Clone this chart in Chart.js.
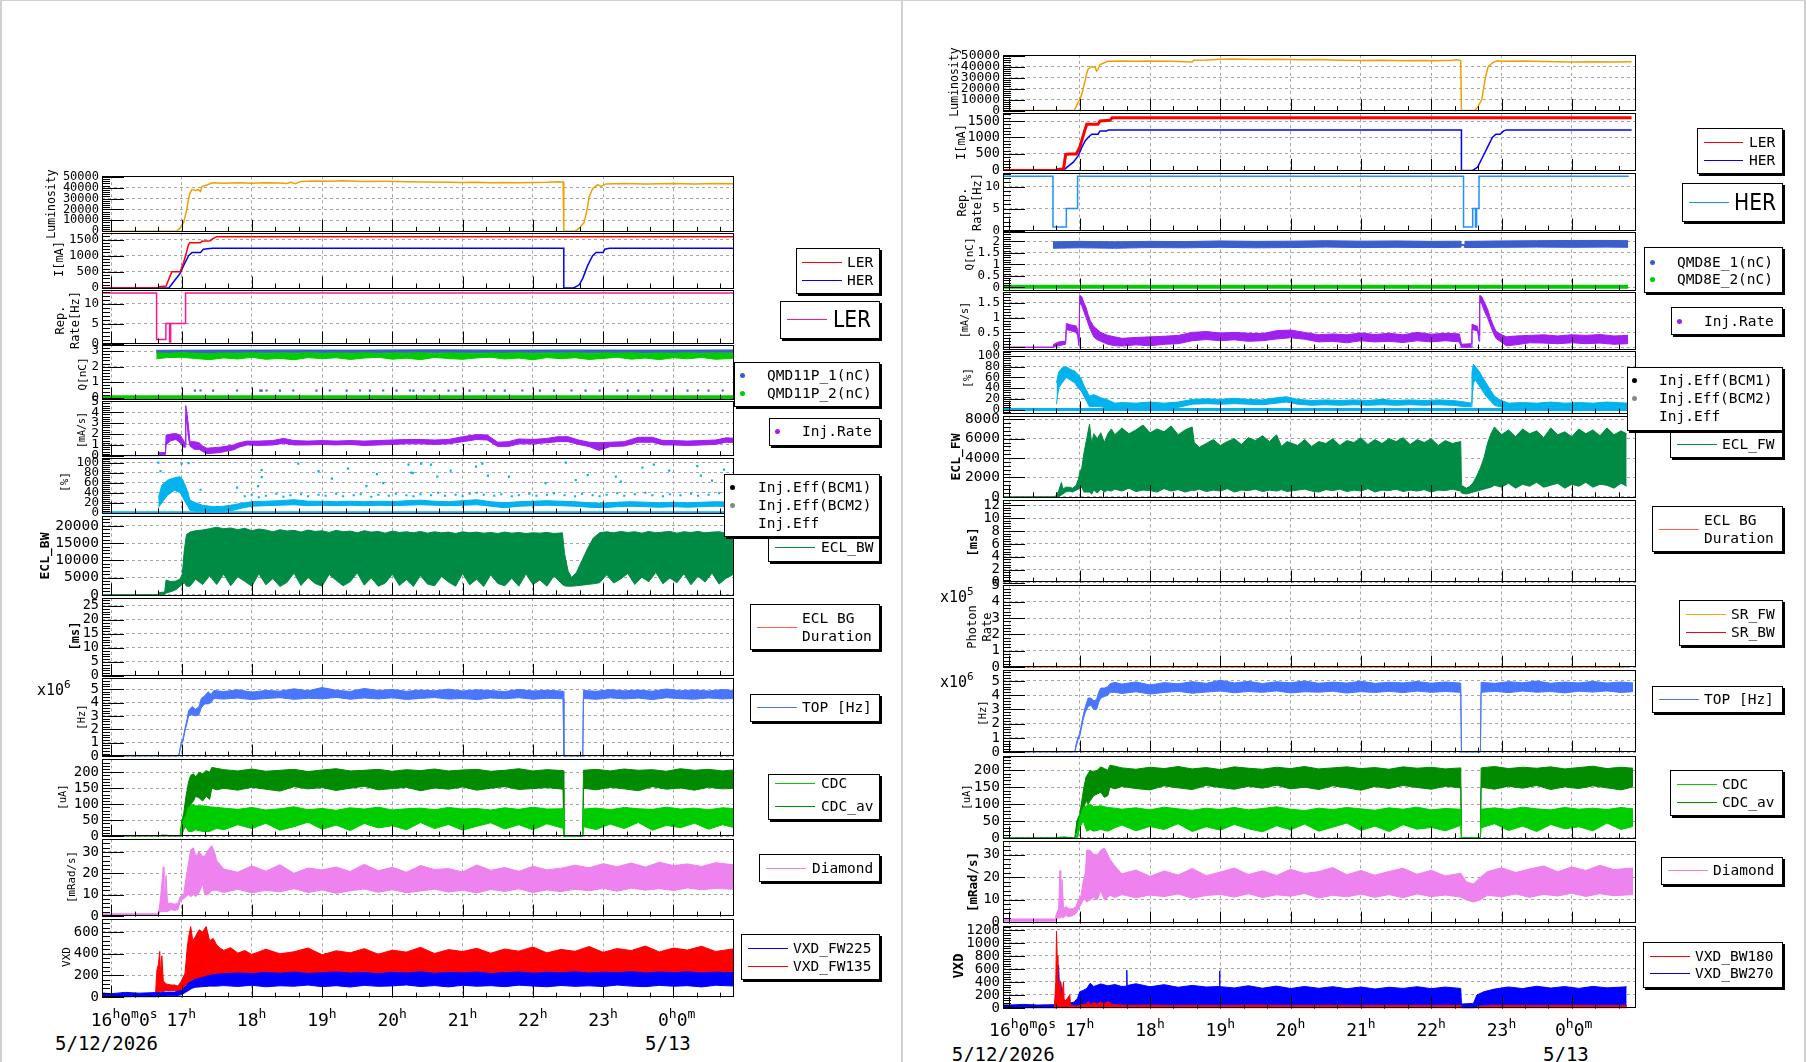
<!DOCTYPE html>
<html>
<head>
<meta charset="utf-8">
<title>Machine / detector strip charts 5/12/2026</title>
<script src="https://cdn.jsdelivr.net/npm/chart.js"></script>
<style>
  body { margin: 0; background: #fff; }
  #root { position: relative; width: 1806px; height: 1062px; overflow: hidden; font-family: "DejaVu Sans Mono", monospace; color: #000; }
  #root canvas { position: absolute; }
  .sep { position: absolute; background: #d0d0d0; }
  .yt { position: absolute; white-space: pre; text-align: center; transform: translate(-50%, -50%) rotate(-90deg); line-height: 1.25; }
  .xl { position: absolute; white-space: nowrap; font-size: 18px; line-height: 18px; }
  .xl span { font-size: 13px; position: relative; top: -8px; }
  .dt { position: absolute; white-space: nowrap; font-size: 19px; line-height: 19px; }
  .mult { position: absolute; white-space: nowrap; font-size: 15px; line-height: 15px; }
  .mult span { font-size: 11px; position: relative; top: -7px; }
  .leg { position: absolute; background: #fff; border: 1px solid #000; box-shadow: 2px 2px 0 #000; box-sizing: border-box; }
  .lm { position: absolute; }
  .lt { position: absolute; white-space: pre; font-size: 14.5px; line-height: 16px; transform: translateY(-50%); }
  .lt.big { font-family: "DejaVu Sans", sans-serif; font-size: 23px; line-height: 24px; transform: translateY(-50%) scaleX(.88); transform-origin: 0 50%; }
</style>
</head>
<body>
<div id="root"></div>
<script>
// time is in hours on 5/12 (24.x = after midnight on 5/13)
const hourTicks = [16, 17, 18, 19, 20, 21, 22, 23, 24];

// ---- left page (LER) ----
const lumL = [[15.8,0],[16.93,0],[16.98,3000],[17.03,8000],[17.075,20000],[17.1,30000],[17.12,35000],[17.15,38500],[17.2,37500],[17.24,38200],[17.27,36500],[17.29,41000],[17.36,42500],[17.44,44500],[17.6,44200],[17.8,44600],[18.0,44200],[18.2,44500],[18.4,44300],[18.5,43800],[18.55,44900],[18.62,43700],[18.7,45800],[18.9,46200],[19.1,45900],[19.3,46300],[19.6,45800],[19.9,45900],[20.2,45600],[20.5,45300],[20.8,45100],[21.0,44700],[21.2,45000],[21.4,44600],[21.6,44900],[21.8,44500],[22.0,44700],[22.2,45000],[22.35,45600],[22.43,45200],[22.44,0],[22.6,0],[22.66,2700],[22.73,8000],[22.78,22800],[22.8,31700],[22.85,39000],[22.92,42900],[22.97,41100],[23.04,43500],[23.3,43800],[23.6,43400],[24.0,43800],[24.3,43500],[24.6,43900],[24.9,43600]];
const lerL = [[15.8,0],[16.67,0],[16.68,40],[16.78,60],[16.86,500],[16.98,500],[17.03,800],[17.07,1100],[17.1,1350],[17.12,1400],[17.27,1400],[17.29,1450],[17.41,1460],[17.44,1520],[17.5,1590],[24.9,1590]];
const herL = [[15.8,0],[16.82,0],[16.89,200],[16.98,450],[17.03,700],[17.1,1000],[17.15,1100],[17.27,1100],[17.31,1200],[17.44,1230],[22.44,1230],[22.44,0],[22.58,0],[22.66,100],[22.71,300],[22.78,700],[22.85,1000],[22.9,1100],[23.0,1100],[23.02,1200],[23.09,1230],[24.9,1230]];
const repL = [[15.8,12.6],[16.645,12.6],[16.645,1],[16.777,1],[16.777,5],[16.83,5],[16.83,0.4],[16.845,0.4],[16.845,5],[17.057,5],[17.057,12.6],[24.9,12.6]];
const q1L = [[16.64,2.88,3.05],[17.5,2.87,3.06],[18.5,2.89,3.07],[19.5,2.88,3.06],[20.5,2.89,3.08],[21.5,2.88,3.06],[22.5,2.89,3.07],[23.5,2.88,3.06],[24.9,2.89,3.07]];
const q2L = [[16.64,2.5,2.88],[16.8,2.58,2.86],[17.0,2.6,2.9],[17.2,2.52,2.86],[17.4,2.45,2.84],[17.6,2.56,2.88],[17.8,2.49,2.86],[18.0,2.6,2.89],[18.2,2.47,2.85],[18.4,2.53,2.88],[18.6,2.44,2.86],[18.8,2.58,2.89],[19.0,2.51,2.85],[19.2,2.57,2.88],[19.4,2.46,2.86],[19.6,2.55,2.89],[19.8,2.6,2.85],[20.0,2.48,2.88],[20.2,2.54,2.86],[20.4,2.45,2.89],[20.6,2.59,2.85],[20.8,2.52,2.88],[21.0,2.47,2.86],[21.2,2.56,2.85],[21.4,2.6,2.88],[21.6,2.49,2.86],[21.8,2.55,2.89],[22.0,2.44,2.85],[22.2,2.58,2.88],[22.4,2.51,2.86],[22.6,2.57,2.89],[22.8,2.46,2.85],[23.0,2.53,2.88],[23.2,2.6,2.86],[23.4,2.48,2.89],[23.6,2.55,2.85],[23.8,2.45,2.88],[24.0,2.57,2.86],[24.2,2.5,2.89],[24.4,2.59,2.85],[24.6,2.47,2.88],[24.9,2.54,2.86]];
const q0L = [[15.8,0.03],[24.9,0.03]];
const qDotsL = [[17.19,0.46],[17.27,0.47],[17.45,0.46],[17.79,0.47],[18.12,0.46],[18.14,0.46],[18.21,0.47],[18.4,0.46],[18.59,0.47],[18.92,0.46],[19.11,0.47],[19.35,0.46],[19.54,0.47],[19.68,0.46],[19.87,0.47],[20.06,0.46],[20.25,0.47],[20.3,0.46],[20.45,0.47],[20.6,0.46],[20.8,0.46],[20.9,0.47],[21.1,0.46],[21.3,0.47],[21.45,0.46],[21.6,0.46],[21.85,0.47],[22.1,0.46],[22.3,0.46],[22.55,0.47],[22.75,0.46],[22.95,0.46],[23.2,0.47],[23.35,0.46],[23.5,0.46],[23.7,0.47],[23.9,0.46],[24.2,0.46],[24.35,0.47],[24.5,0.46],[24.7,0.47]];
const injRateL = [[15.8,0,0],[16.67,0,0],[16.67,0.1,0.3],[16.77,0.1,0.3],[16.78,1.0,1.9],[16.85,1.4,2.0],[16.92,1.5,2.05],[16.98,1.2,1.9],[17.03,0.8,1.4],[17.05,0.8,1.1],[17.06,3.6,4.6],[17.08,2.8,3.8],[17.1,1.6,2.6],[17.12,0.9,1.3],[17.18,0.6,1.3],[17.25,0.6,1.2],[17.3,0.4,0.9],[17.36,0.2,0.7],[17.45,0.25,0.75],[17.55,0.3,0.8],[17.65,0.45,0.9],[17.74,0.55,1.0],[17.82,0.8,1.2],[17.93,1.0,1.35],[18.1,0.95,1.35],[18.3,1.0,1.4],[18.45,1.15,1.6],[18.6,1.0,1.4],[18.8,1.0,1.35],[19.0,1.05,1.4],[19.2,1.0,1.35],[19.4,1.05,1.4],[19.6,0.95,1.35],[19.8,1.0,1.4],[20.0,1.05,1.45],[20.2,1.1,1.5],[20.4,1.1,1.5],[20.6,1.05,1.45],[20.8,1.1,1.5],[21.0,1.3,1.75],[21.2,1.5,1.95],[21.35,1.45,1.9],[21.5,0.85,1.25],[21.65,0.85,1.3],[21.8,1.1,1.55],[22.0,1.1,1.5],[22.2,1.2,1.6],[22.35,1.3,1.75],[22.5,1.3,1.75],[22.65,1.05,1.45],[22.8,0.85,1.25],[22.94,0.5,1.2],[23.1,0.85,1.25],[23.3,0.9,1.3],[23.5,1.25,1.7],[23.7,1.25,1.7],[23.85,1.0,1.4],[24.0,1.0,1.4],[24.2,0.95,1.35],[24.4,1.0,1.4],[24.6,1.05,1.45],[24.75,1.25,1.65],[24.9,1.2,1.6]];
const effBaseL = [[15.8,0],[24.9,0]];
const effL = [[16.67,10,30],[16.72,20,55],[16.8,35,65],[16.9,45,70],[16.98,40,72],[17.02,30,65],[17.08,15,45],[17.12,5,25],[17.2,3,20],[17.3,3,15],[17.45,2,12],[17.6,3,13],[17.74,5,16],[17.85,9,19],[18.0,13,22],[18.2,14,23],[18.4,15,24],[18.6,16,26],[18.8,14,23],[19.0,15,23],[19.2,14,22],[19.4,15,23],[19.6,14,22],[19.8,15,23],[20.0,14,22],[20.2,15,24],[20.4,16,25],[20.6,15,23],[20.8,14,22],[21.0,15,24],[21.2,16,26],[21.4,13,22],[21.6,10,20],[21.8,13,22],[22.0,14,23],[22.2,15,24],[22.4,14,23],[22.6,13,22],[22.8,11,20],[23.0,10,19],[23.2,12,21],[23.4,13,22],[23.6,12,21],[23.8,11,20],[24.0,12,21],[24.2,11,20],[24.4,12,21],[24.6,13,22],[24.9,12,21]];
const effDotsL = [[17.9,33],[18.0,36],[18.1,31],[18.2,34],[18.35,38],[18.45,32],[18.55,35],[18.7,37],[18.8,33],[18.95,36],[19.05,34],[19.2,38],[19.3,33],[19.45,35],[19.55,37],[19.7,32],[19.8,36],[19.95,34],[20.05,38],[20.2,35],[20.3,33],[20.4,37],[20.55,35],[20.65,40],[20.75,34],[20.9,36],[21.0,33],[21.1,38],[21.2,40],[21.3,36],[21.45,34],[21.55,37],[21.7,33],[21.8,35],[21.95,38],[22.05,34],[22.2,36],[22.3,39],[22.45,35],[22.6,33],[22.7,38],[22.85,35],[22.95,33],[23.05,36],[23.2,39],[23.3,34],[23.45,37],[23.6,40],[23.7,35],[23.85,33],[23.95,37],[24.1,35],[24.25,38],[24.35,34],[24.5,36],[24.65,39],[24.75,35],[24.85,37],
  [16.67,100],[16.7,83],[17.0,98],[17.1,99],[17.27,46],[17.79,50],[18.09,53],[18.14,85],[18.14,71],[18.66,98],[18.95,83],[19.14,68],[19.37,88],[19.63,53],[19.78,77],[19.87,59],[20.23,96],[20.27,80],[20.29,79],[20.41,98],[20.55,96],[20.64,72],[20.83,84],[21.19,92],[21.28,98],[21.36,74],[21.66,72],[22.18,59],[22.47,100],[22.61,65],[22.78,75],[23.18,72],[23.25,62],[23.56,90],[23.72,96],[23.94,84],[24.34,93],[24.39,74],[24.55,64],[24.72,86]];
const eclBwL = [[15.8,0,0],[16.67,0,0],[16.68,0,600],[16.76,0,800],[16.78,500,4300],[16.85,900,3800],[16.92,1500,4000],[16.98,2500,4600],[17.01,3000,6000],[17.04,3500,13000],[17.07,2500,17500],[17.12,2500,18200],[17.2,4500,18600],[17.3,3000,18800],[17.4,5500,19200],[17.5,3000,19600],[17.6,6000,19200],
  [17.7,2600,19400],[17.8,5200,18900],[17.9,3900,19300],[18.0,2500,18600],[18.1,6100,19100],[18.2,2900,18800],[18.3,4700,18300],[18.4,2400,18900],[18.5,3600,18500],[18.6,6300,18700],[18.7,2700,18200],[18.8,5000,18800],[18.9,3300,18400],[19.0,2500,18600],[19.1,5900,18100],[19.2,4200,18700],[19.3,2600,18300],[19.4,3800,18500],[19.5,6400,18000],[19.6,2800,18600],[19.7,4900,18200],[19.8,2500,18400],[19.9,3400,17900],[20.0,6000,18500],[20.1,2700,18100],[20.2,4400,18300],[20.3,2400,18000],[20.4,5600,18400],[20.5,3100,17900],[20.6,2600,18300],[20.7,5300,18000],[20.8,3700,18200],[20.9,2500,17800],[21.0,6200,18300],[21.1,2900,18000],[21.2,4500,18200],[21.3,2400,17900],[21.4,5800,18100],[21.5,3300,17800],[21.6,2600,18200],[21.7,4800,17900],[21.8,2500,18100],[21.9,6100,17800],[22.0,3000,18000],[22.1,4300,17900],[22.2,2500,18100],[22.3,5500,17800],[22.42,3000,18000],
  [22.45,2600,12000],[22.5,2500,7000],[22.55,2500,5000],[22.62,2600,6500],[22.7,2800,10000],[22.78,3000,13500],[22.86,3200,16500],[22.95,3500,18000],
  [23.05,5800,18300],[23.15,3400,18000],[23.25,4600,18400],[23.35,6200,18100],[23.45,3000,18300],[23.55,5100,17900],[23.65,3800,18400],[23.75,6500,18000],[23.85,3200,18200],[23.95,4900,18400],[24.05,3500,17900],[24.15,6100,18300],[24.25,2900,18100],[24.35,5400,18400],[24.45,3700,18000],[24.55,6300,18200],[24.65,3100,18300],[24.75,4800,17900],[24.85,5900,18200],[24.9,3400,18100]];
const topL = [[15.8,0,0],[16.96,0,0],[16.99,0.8,0.9],[17.02,1.1,1.3],[17.05,1.9,2.1],[17.08,2.5,2.8],[17.1,3.0,3.4],[17.15,3.1,3.7],[17.2,3.0,3.5],[17.25,3.1,3.7],[17.28,3.6,4.3],[17.33,3.9,4.5],[17.38,3.9,4.8],[17.42,4.0,4.6],[17.46,4.3,4.9],[17.6,4.26,4.82],[17.8,4.33,4.95],[18.0,4.22,4.78],[18.2,4.3,4.9],[18.4,4.36,4.85],[18.6,4.24,5.02],[18.8,4.32,4.88],[19.0,4.28,5.12],[19.2,4.38,4.92],[19.4,4.25,4.83],[19.6,4.34,5.05],[19.8,4.27,4.9],[20.0,4.35,4.97],[20.2,4.23,4.84],[20.4,4.31,4.93],[20.6,4.37,4.87],[20.8,4.26,5.0],[21.0,4.3,4.86],[21.2,4.22,4.95],[21.4,4.34,4.89],[21.6,4.28,4.82],[21.8,4.36,4.98],[22.0,4.25,4.86],[22.2,4.32,4.92],[22.43,4.28,4.85],[22.44,0,0],[22.71,0,0],[22.72,4.3,4.9],[22.9,4.24,4.84],[23.1,4.35,4.96],[23.3,4.27,4.87],[23.5,4.33,4.93],[23.7,4.22,4.85],[23.9,4.36,5.01],[24.1,4.29,4.88],[24.3,4.25,4.94],[24.5,4.34,4.86],[24.7,4.27,4.97],[24.9,4.31,4.88]];
const cdcAvL = [[15.8,0,0],[16.7,0,0],[16.72,0,4],[16.8,0,3],[16.82,0,0],[16.98,0,0],[17.0,15,45],[17.03,40,70],[17.06,60,120],[17.1,80,170],[17.13,100,190],[17.17,110,195],[17.2,125,185],[17.25,120,200],[17.3,110,195],[17.35,125,205],[17.4,115,200],[17.43,150,215],[17.5,145,212],[17.6,150,208],[17.8,144,204],[18.0,153,210],[18.2,147,203],[18.4,141,206],[18.6,155,209],[18.8,148,202],[19.0,152,207],[19.2,143,211],[19.4,150,204],[19.6,156,206],[19.8,145,209],[20.0,149,203],[20.2,153,208],[20.4,142,205],[20.6,151,210],[20.8,147,204],[21.0,154,207],[21.2,144,209],[21.4,150,203],[21.6,155,206],[21.8,146,211],[22.0,149,204],[22.2,152,208],[22.43,147,205],[22.44,0,0],[22.71,0,0],[22.72,150,206],[22.9,145,209],[23.1,153,204],[23.3,148,210],[23.5,142,206],[23.7,155,208],[23.9,147,203],[24.1,151,211],[24.3,144,206],[24.5,153,209],[24.7,148,204],[24.9,150,208]];
const cdcL = [[16.98,0,0],[17.0,0,30],[17.03,20,50],[17.06,30,65],[17.1,15,90],[17.15,15,100],[17.2,20,95],[17.3,15,95],[17.4,15,92],[17.5,25,90],[17.6,20,88],[17.8,36,84],[18.0,24,90],[18.2,41,82],[18.4,19,86],[18.6,30,92],[18.8,44,83],[19.0,22,87],[19.2,35,81],[19.4,18,89],[19.6,40,85],[19.8,26,91],[20.0,33,82],[20.2,20,86],[20.4,43,88],[20.6,24,83],[20.8,37,90],[21.0,19,85],[21.2,31,87],[21.4,42,82],[21.6,23,89],[21.8,36,84],[22.0,20,91],[22.2,39,85],[22.43,25,86],[22.44,0,0],[22.71,0,0],[22.72,30,85],[22.9,21,88],[23.1,38,83],[23.3,24,90],[23.5,43,86],[23.7,19,84],[23.9,34,91],[24.1,27,85],[24.3,41,88],[24.5,22,83],[24.7,36,89],[24.9,25,86]];
const diaL = [[15.8,0.2,1],[16.67,0.2,1],[16.68,1,3],[16.7,2,8],[16.74,2,23],[16.75,2,6],[16.78,2,19],[16.8,2,6],[16.85,3,6],[16.9,2.5,5.5],[16.95,3,6],[16.98,7,9],[17.03,8,10],[17.06,9,17],[17.1,10,25],[17.13,9,31],[17.17,10,32],[17.2,9,28],[17.25,11,30],[17.3,15,28],[17.33,10,28],[17.38,10,31],[17.43,12,33],[17.47,12,30],[17.5,12,26],[17.6,11,22],[17.8,12.5,20.5],[18.0,10.8,23.5],[18.2,12,21],[18.4,11.3,24],[18.6,12.8,20],[18.8,11,22.5],[19.0,12.2,21.5],[19.2,10.6,23],[19.4,11.8,20.8],[19.6,12.6,24.2],[19.8,11.1,21.2],[20.0,12.3,22.8],[20.2,10.9,20.5],[20.4,11.7,23.6],[20.6,12.5,21.8],[20.8,11.2,22.2],[21.0,12.1,20.6],[21.2,10.8,23.9],[21.4,12.4,21.4],[21.6,11.5,22.7],[21.8,12.7,20.9],[22.0,11,23.3],[22.2,12.2,21.6],[22.4,11.4,22.4],[22.6,12.5,23.8],[22.8,11.8,22.6],[23.0,12.9,24.5],[23.2,11.6,23.1],[23.4,13,24.8],[23.6,12.1,22.9],[23.8,12.8,25.2],[24.0,11.9,23.6],[24.2,13.1,24.4],[24.4,12.3,23.2],[24.6,12.9,25],[24.9,12.4,23.8]];
const vxdBlueL = [[15.8,0,40],[16.0,0,30],[16.2,0,42],[16.4,0,35],[16.63,0,40],[16.7,5,40],[16.8,10,45],[16.9,10,45],[17.0,20,60],[17.05,40,90],[17.1,60,130],[17.15,80,150],[17.2,90,165],[17.3,95,180],[17.4,100,200],[17.5,100,210],[17.6,105,215],[17.8,97,221],[18.0,108,216],[18.2,94,226],[18.4,103,219],[18.6,99,229],[18.8,110,217],[19.0,95,224],[19.2,104,231],[19.4,92,220],[19.6,107,226],[19.8,98,215],[20.0,102,228],[20.2,111,221],[20.4,96,232],[20.6,105,218],[20.8,93,227],[21.0,108,222],[21.2,99,230],[21.4,104,216],[21.6,95,225],[21.8,109,231],[22.0,101,219],[22.2,94,228],[22.4,106,223],[22.6,98,232],[22.8,103,220],[23.0,96,229],[23.2,110,224],[23.4,100,233],[23.6,95,221],[23.8,107,230],[24.0,99,225],[24.2,104,232],[24.4,93,222],[24.6,108,229],[24.9,100,224]];
const vxdRedL = [[16.63,0,40],[16.65,30,250],[16.67,40,300],[16.69,50,420],[16.7,50,200],[16.72,50,380],[16.74,50,150],[16.78,60,120],[16.85,60,110],[16.9,60,110],[16.95,50,100],[17.0,60,150],[17.05,80,220],[17.08,100,450],[17.1,120,550],[17.13,150,650],[17.16,160,520],[17.2,160,560],[17.25,170,620],[17.3,180,600],[17.35,180,650],[17.4,180,520],[17.45,190,540],[17.5,190,480],[17.55,190,450],[17.6,200,430],[17.7,200,455],[17.8,200,405],[17.9,200,428],[18.0,200,392],[18.2,200,441],[18.4,200,398],[18.6,200,417],[18.8,200,452],[19.0,200,389],[19.2,200,426],[19.4,200,408],[19.6,200,446],[19.8,200,395],[20.0,200,432],[20.2,200,414],[20.4,200,458],[20.6,200,401],[20.8,200,437],[21.0,200,419],[21.2,200,449],[21.4,200,404],[21.6,200,442],[21.8,200,423],[22.0,200,461],[22.2,200,407],[22.4,200,439],[22.6,200,421],[22.8,200,466],[23.0,200,412],[23.2,200,447],[23.4,200,428],[23.6,200,470],[23.8,200,416],[24.0,200,451],[24.2,200,433],[24.4,200,468],[24.6,200,420],[24.9,200,448]];

// ---- right page (HER) ----
const lumR = [[15.8,0],[16.92,0],[16.96,5000],[17.0,10000],[17.03,15000],[17.08,28000],[17.1,34000],[17.12,38000],[17.17,40000],[17.22,39500],[17.24,36000],[17.26,37500],[17.29,42000],[17.4,45000],[17.6,45200],[17.8,44900],[18.0,45300],[18.3,45000],[18.5,44600],[18.6,44300],[18.62,46000],[18.8,46200],[19.0,46800],[19.2,47000],[19.5,46600],[19.8,46800],[20.1,46400],[20.4,46600],[20.7,46000],[21.0,45700],[21.3,45900],[21.6,45500],[21.9,45700],[22.1,45400],[22.3,45800],[22.36,46300],[22.42,45600],[22.43,0],[22.61,0],[22.65,2000],[22.72,10000],[22.77,30000],[22.81,40000],[22.88,44000],[22.94,45500],[23.0,45000],[23.3,45200],[23.6,44700],[24.0,44400],[24.3,44600],[24.6,44300],[24.85,44500]];
const lerR = [[15.8,0],[16.67,0],[16.68,30],[16.77,40],[16.8,480],[16.85,500],[16.95,500],[17.0,700],[17.07,1200],[17.1,1400],[17.26,1400],[17.29,1500],[17.43,1520],[17.46,1600],[24.85,1600]];
const herR = [[15.8,0],[16.77,0],[16.82,100],[16.91,250],[16.98,450],[17.03,700],[17.08,900],[17.12,1000],[17.17,1100],[17.26,1100],[17.29,1200],[17.38,1200],[17.41,1230],[22.43,1230],[22.43,0],[22.59,0],[22.66,100],[22.73,400],[22.8,700],[22.87,1000],[22.92,1100],[22.98,1100],[23.03,1200],[23.07,1230],[24.85,1230]];
const repR = [[15.8,12.4],[16.62,12.4],[16.62,0.8],[16.81,0.8],[16.81,5],[16.97,5],[16.97,12.4],[22.46,12.4],[22.46,0.8],[22.59,0.8],[22.59,5],[22.63,5],[22.63,0.8],[22.645,0.8],[22.645,5],[22.68,5],[22.68,12.4],[24.81,12.4]];
const q1R = [[16.62,1.7,1.98],[17.0,1.72,2.0],[17.5,1.7,1.98],[18.0,1.73,2.0],[18.5,1.72,1.99],[19.0,1.74,2.02],[19.5,1.72,2.0],[20.0,1.73,2.01],[20.5,1.75,2.03],[21.0,1.73,2.01],[21.5,1.74,2.02],[22.0,1.73,2.0],[22.42,1.74,2.01],[22.43,1.82,1.86],[22.47,1.82,1.86],[22.48,1.73,2.0],[23.0,1.74,2.02],[23.5,1.75,2.03],[24.0,1.74,2.04],[24.5,1.75,2.04],[24.8,1.74,2.03]];
const q0R = [[15.8,0.02],[24.8,0.02]];
const injRateR = [[15.8,0,0],[16.62,0,0],[16.63,0,0.1],[16.7,0.05,0.18],[16.8,0.1,0.2],[16.81,0.6,0.8],[16.88,0.55,0.75],[16.95,0.5,0.72],[16.97,0.4,0.6],[16.99,0.05,0.2],[17.0,1.5,1.75],[17.03,1.4,1.7],[17.06,1.2,1.5],[17.09,1.0,1.35],[17.12,0.8,1.1],[17.15,0.6,0.9],[17.2,0.35,0.7],[17.25,0.25,0.6],[17.3,0.2,0.5],[17.4,0.1,0.4],[17.5,0.05,0.35],[17.6,0.04,0.3],[17.8,0.08,0.33],[18.0,0.05,0.35],[18.2,0.1,0.37],[18.4,0.12,0.4],[18.6,0.22,0.5],[18.8,0.26,0.53],[19.0,0.22,0.48],[19.2,0.25,0.5],[19.4,0.2,0.47],[19.6,0.22,0.46],[19.8,0.28,0.56],[20.0,0.32,0.58],[20.2,0.27,0.5],[20.4,0.18,0.42],[20.6,0.2,0.45],[20.8,0.15,0.42],[21.0,0.22,0.48],[21.2,0.18,0.43],[21.4,0.2,0.47],[21.6,0.16,0.42],[21.8,0.22,0.5],[22.0,0.18,0.44],[22.2,0.22,0.47],[22.4,0.18,0.45],[22.43,0,0.1],[22.57,0,0.12],[22.58,0.6,0.78],[22.66,0.55,0.7],[22.68,0.2,0.4],[22.69,1.55,1.75],[22.72,1.45,1.7],[22.76,1.2,1.5],[22.8,1.0,1.3],[22.84,0.75,1.0],[22.88,0.5,0.75],[22.92,0.3,0.55],[22.98,0.2,0.45],[23.07,0.05,0.35],[23.2,0.08,0.38],[23.4,0.15,0.4],[23.6,0.14,0.42],[23.8,0.12,0.38],[24.0,0.15,0.42],[24.2,0.12,0.4],[24.4,0.14,0.43],[24.6,0.1,0.38],[24.8,0.12,0.4]];
const effBaseR = [[15.8,0],[24.8,0]];
const effR = [[16.67,10,50],[16.7,40,70],[16.75,50,78],[16.81,60,80],[16.87,55,75],[16.93,50,72],[16.98,40,65],[17.02,35,58],[17.06,25,45],[17.1,15,35],[17.14,5,25],[17.2,6,28],[17.3,5,22],[17.4,3,18],[17.5,2,12],[17.6,3,13],[17.8,2,12],[18.0,3,14],[18.2,2,12],[18.4,4,14],[18.6,10,19],[18.8,11,20],[19.0,10,19],[19.2,11,21],[19.4,10,19],[19.6,9,18],[19.8,12,22],[19.94,14,24],[20.1,10,19],[20.3,8,17],[20.5,9,18],[20.7,8,17],[20.9,9,18],[21.1,8,17],[21.3,9,19],[21.5,8,17],[21.7,9,18],[21.9,8,17],[22.1,9,18],[22.3,8,17],[22.43,6,15],[22.57,5,12],[22.58,20,70],[22.6,50,85],[22.63,55,80],[22.68,45,72],[22.73,35,60],[22.78,25,50],[22.85,15,35],[22.9,8,25],[22.98,5,18],[23.1,3,12],[23.3,4,13],[23.5,3,12],[23.7,4,14],[23.9,3,12],[24.1,4,13],[24.3,3,12],[24.5,4,14],[24.8,3,12]];
const eclFwR = [[15.8,0,0],[16.65,0,0],[16.7,0,600],[16.74,200,1500],[16.76,300,800],[16.8,500,1000],[16.85,600,1000],[16.9,500,900],[16.95,700,1200],[16.98,800,1800],[17.0,900,2500],[17.03,1000,3000],[17.06,500,4500],[17.1,500,6000],[17.14,500,7500],[17.17,300,5500],[17.2,700,6500],[17.25,400,6000],[17.3,800,6600],[17.35,500,5600],[17.4,700,6500],[17.45,600,7000],
  [17.5,800,6400],[17.6,600,7100],[17.7,900,6500],[17.8,550,6900],[17.9,700,7400],[18.0,650,6600],[18.1,500,7000],[18.2,850,6700],[18.3,600,7300],[18.4,750,6400],[18.5,500,6900],[18.6,700,7200],[18.63,650,5600],[18.7,800,5100],[18.8,550,5500],[18.9,700,5900],[19.0,600,5300],[19.1,850,5700],[19.2,500,6000],[19.3,700,5400],[19.4,650,6100],[19.5,800,5800],[19.6,550,6300],[19.7,700,5700],[19.8,600,6400],[19.87,750,5200],[19.95,550,5700],[20.1,700,5300],[20.2,800,5900],[20.3,600,5200],[20.4,500,5700],[20.5,750,5500],[20.6,650,6000],[20.7,800,5300],[20.8,550,5800],[20.9,700,5600],[21.0,600,6100],[21.1,850,5400],[21.2,500,5900],[21.3,700,5500],[21.4,650,6000],[21.5,800,5700],[21.6,550,6100],[21.7,700,5400],[21.8,600,5900],[21.9,750,5600],[22.0,500,6000],[22.1,700,5300],[22.2,650,5800],[22.3,800,5500],[22.42,600,5700],
  [22.43,400,1200],[22.5,300,900],[22.55,400,1100],[22.6,500,1500],[22.65,600,2200],[22.7,700,3000],[22.75,800,4000],[22.8,900,5500],[22.85,1000,6500],
  [22.9,1200,7200],[23.0,1000,6400],[23.1,1400,6900],[23.2,900,6200],[23.3,1300,7000],[23.4,1100,6500],[23.5,1500,6800],[23.6,1000,6100],[23.7,1200,7100],[23.8,1400,6400],[23.9,900,6700],[24.0,1300,6200],[24.1,1100,7000],[24.2,1500,6500],[24.3,1000,6900],[24.4,1300,6300],[24.5,1200,7100],[24.6,900,6400],[24.7,1400,6800],[24.78,1100,6500]];
const srFwR = [[15.8,0],[24.78,0]];
const srBwR = [[15.8,0],[24.78,0]];
const topR = [[15.8,0,0],[16.93,0,0],[16.95,0.4,0.6],[16.98,0.9,1.1],[17.0,1.1,1.3],[17.03,1.8,2.1],[17.05,2.3,2.6],[17.08,2.8,3.2],[17.12,3.2,3.8],[17.16,3.3,3.8],[17.2,3.0,3.6],[17.24,3.0,3.7],[17.27,3.5,4.2],[17.3,3.8,4.5],[17.35,3.9,4.5],[17.4,4.0,4.6],[17.43,4.2,4.8],[17.5,4.2,4.9],[17.6,4.12,4.78],[17.8,4.24,4.93],[18.0,4.08,4.72],[18.2,4.19,4.88],[18.4,4.27,4.8],[18.6,4.14,4.95],[18.8,4.22,4.83],[19.0,4.29,5.05],[19.2,4.17,4.86],[19.4,4.26,4.97],[19.6,4.2,4.82],[19.8,4.3,4.94],[20.0,4.16,4.87],[20.2,4.24,5.0],[20.4,4.21,4.84],[20.6,4.28,4.92],[20.8,4.15,4.85],[21.0,4.25,4.98],[21.2,4.19,4.83],[21.4,4.27,4.91],[21.6,4.18,4.86],[21.8,4.29,4.96],[22.0,4.2,4.84],[22.2,4.26,4.93],[22.42,4.2,4.85],[22.43,0,0],[22.7,0,0],[22.71,4.2,4.9],[22.9,4.27,4.83],[23.1,4.18,4.95],[23.3,4.29,4.87],[23.5,4.21,4.99],[23.7,4.26,4.84],[23.9,4.16,4.92],[24.1,4.28,4.86],[24.3,4.22,4.97],[24.5,4.3,4.85],[24.7,4.19,4.93],[24.87,4.25,4.86]];
const cdcAvR = [[15.8,0,0],[16.65,0,0],[16.7,0,2],[16.8,0,3],[16.85,0,1],[16.93,0,0],[16.96,20,50],[17.0,40,70],[17.03,60,110],[17.06,90,150],[17.09,110,180],[17.12,100,190],[17.15,110,200],[17.2,125,195],[17.25,130,200],[17.3,135,210],[17.35,120,205],[17.4,125,200],[17.43,150,215],[17.5,145,212],[17.6,152,207],[17.8,146,203],[18.0,142,209],[18.2,154,205],[18.4,148,211],[18.6,143,204],[18.8,155,208],[19.0,149,202],[19.2,144,210],[19.4,153,206],[19.6,147,203],[19.8,156,209],[20.0,145,205],[20.2,150,211],[20.4,143,204],[20.6,154,207],[20.8,148,210],[21.0,141,205],[21.2,152,208],[21.4,146,203],[21.6,155,210],[21.8,149,206],[22.0,144,209],[22.2,153,204],[22.42,148,207],[22.43,0,0],[22.7,0,0],[22.71,150,207],[22.9,144,211],[23.1,153,205],[23.3,147,209],[23.5,155,206],[23.7,143,210],[23.9,151,204],[24.1,146,208],[24.3,154,212],[24.5,148,205],[24.7,142,209],[24.87,151,206]];
const cdcR = [[16.95,0,0],[16.97,0,20],[17.0,30,60],[17.05,50,90],[17.1,20,95],[17.15,25,100],[17.2,20,92],[17.3,25,95],[17.4,20,90],[17.5,30,88],[17.6,38,85],[17.8,21,89],[18.0,34,83],[18.2,25,91],[18.4,42,86],[18.6,19,82],[18.8,33,88],[19.0,23,84],[19.2,40,90],[19.4,27,83],[19.6,18,87],[19.8,36,92],[20.0,24,85],[20.2,41,81],[20.4,20,88],[20.6,32,84],[20.8,44,90],[21.0,22,86],[21.2,35,82],[21.4,19,89],[21.6,39,85],[21.8,26,91],[22.0,31,83],[22.2,21,87],[22.42,37,85],[22.43,0,0],[22.7,0,0],[22.71,30,85],[22.9,42,89],[23.1,22,84],[23.3,35,91],[23.5,19,86],[23.7,40,83],[23.9,27,90],[24.1,33,85],[24.3,21,88],[24.5,44,84],[24.7,25,90],[24.87,34,86]];
const diaR = [[15.8,0.5,1.5],[16.65,0.5,1.5],[16.66,1,3],[16.7,2,6],[16.72,2,23],[16.73,3,8],[16.75,2,19],[16.77,2,6],[16.8,3,7],[16.85,2.5,6],[16.9,3,6],[16.95,4,7],[16.98,6,10],[17.02,8,12],[17.05,10,18],[17.08,10,22],[17.1,9,32],[17.15,10,32],[17.2,11,30],[17.25,10,30],[17.3,14,32],[17.35,10,33],[17.4,11,30],[17.43,12,28],[17.5,11,25],[17.6,12.3,21.5],[17.8,10.9,23.2],[18.0,12.1,20.4],[18.2,11.4,22.8],[18.4,12.6,21],[18.6,10.7,23.9],[18.8,11.9,20.7],[19.0,12.4,22.3],[19.2,11.2,24.1],[19.4,12.7,21.2],[19.6,11,22.9],[19.8,12.2,20.8],[20.0,11.6,23.5],[20.2,12.8,21.7],[20.4,10.8,22.5],[20.6,12,24.3],[20.8,11.3,21.1],[21.0,12.5,23],[21.2,11.1,20.9],[21.4,12.3,22.6],[21.6,10.9,24],[21.8,12.6,21.3],[22.0,11.4,23.1],[22.2,12.1,20.6],[22.42,11.2,21.8],[22.5,10,18],[22.6,9,17],[22.7,10,20],[22.8,12,22.5],[23.0,11.3,24.2],[23.2,12.6,22.1],[23.4,11.1,23.7],[23.6,12.4,25],[23.8,11.7,22.4],[24.0,12.9,24.6],[24.2,11.5,23],[24.4,12.7,25.3],[24.6,11.8,23.4],[24.87,12.3,24.1]];
const vxdBlueR = [[15.8,0,50],[16.0,0,45],[16.2,0,55],[16.4,0,45],[16.64,0,50],[16.66,0,200],[16.67,10,400],[16.7,10,660],[16.71,10,350],[16.73,10,400],[16.75,10,200],[16.78,10,120],[16.82,10,100],[16.87,10,80],[16.92,10,90],[16.97,10,150],[17.0,20,250],[17.05,20,270],[17.1,20,300],[17.15,25,380],[17.2,25,330],[17.3,20,370],[17.4,25,340],[17.5,20,360],[17.6,25,330],[17.665,25,335],[17.67,20,580],[17.675,25,345],[17.8,20,372],[18.0,25,326],[18.2,20,358],[18.4,25,318],[18.6,20,347],[18.8,25,322],[18.985,25,330],[18.99,20,570],[18.995,25,328],[19.2,20,308],[19.4,25,342],[19.6,20,304],[19.8,25,336],[20.0,20,298],[20.2,25,331],[20.4,20,302],[20.6,25,327],[20.8,20,296],[21.0,25,322],[21.2,20,292],[21.4,25,318],[21.6,20,301],[21.8,25,327],[22.0,20,297],[22.2,25,321],[22.42,20,300],[22.43,10,60],[22.6,10,70],[22.65,15,200],[22.75,20,250],[22.9,20,290],[23.1,25,323],[23.3,20,298],[23.5,25,334],[23.7,20,306],[23.9,25,329],[24.1,20,301],[24.3,25,332],[24.5,20,309],[24.78,25,325]];
const vxdRedR = [[16.64,0,0],[16.66,0,400],[16.67,0,1180],[16.68,0,800],[16.69,0,500],[16.7,0,300],[16.72,0,420],[16.74,0,150],[16.77,0,400],[16.78,0,80],[16.86,0,200],[16.87,0,40],[16.95,0,30],[17.0,0,40],[17.1,0,60],[17.12,0,100],[17.15,0,50],[17.2,0,80],[17.25,0,60],[17.3,0,90],[17.35,0,60],[17.4,0,100],[17.45,0,60],[17.5,0,50],[17.7,0,40],[18.0,0,45],[18.3,0,35],[18.6,0,40],[19.0,0,35],[19.5,0,45],[20.0,0,35],[20.5,0,40],[21.0,0,35],[21.5,0,40],[22.0,0,35],[22.42,0,40],[22.43,0,0],[22.6,0,0],[22.7,0,30],[23.0,0,40],[23.5,0,35],[24.0,0,40],[24.5,0,35],[24.78,0,40]];

// y tick labels per panel
const tk = {
  lum: [0,10000,20000,30000,40000,50000], cur: [0,500,1000,1500], rep: [0,5,10],
  qL: [0,1,2,3], qR: [0,0.5,1,1.5,2], injL: [0,1,2,3,4,5], injR: [0,0.5,1,1.5],
  eff: [0,20,40,60,80,100], eclL: [0,5000,10000,15000,20000], eclR: [0,2000,4000,6000,8000],
  msL: [0,5,10,15,20,25], msR: [0,2,4,6,8,10,12], ph: [0,1,2,3,4,5], top: [0,1,2,3,4,5],
  cdc: [0,50,100,150,200], dia: [0,10,20,30], vxdL: [0,200,400,600], vxdR: [0,200,400,600,800,1000,1200]
};

const root = document.getElementById('root');
const AXW = 100, PT = 10, PB = 10, PR = 6;
const COLS = { L: {x: 102, w: 632, xMin: 15.868, xMax: 24.862}, R: {x: 1003, w: 633, xMin: 15.909, xMax: 24.913} };

function pts(a, k) { return a.map(p => ({x: p[0], y: p[k]})); }
function lineDs(a, color, width) {
  return {data: pts(a, 1), borderColor: color, borderWidth: width || 1.5, pointRadius: 0, fill: false};
}
function bandDs(a, color) {
  return [
    {data: pts(a, 1), borderColor: color, borderWidth: 1, pointRadius: 0, fill: false},
    {data: pts(a, 2), borderColor: color, borderWidth: 1, pointRadius: 0, fill: '-1', backgroundColor: color}
  ];
}
function dotDs(a, color) {
  return {data: pts(a, 1), showLine: false, pointRadius: 1.5, pointStyle: 'rect', pointBackgroundColor: color, pointBorderWidth: 0, borderColor: color};
}

// ROOT-like frame with inward tick marks, drawn from the chart's own scales
Chart.register({
  id: 'rootFrame',
  afterDatasetsDraw(chart) {
    const {ctx, chartArea: a, scales: {x, y}} = chart;
    ctx.save();
    ctx.strokeStyle = '#000';
    ctx.lineWidth = 1;
    ctx.beginPath();
    const t = y.ticks.map(k => k.value);
    const step = (t[1] - t[0]) / 5;
    for (let v = t[0] - Math.floor((t[0] - y.min) / step) * step; v <= y.max + 1e-9; v += step) {
      if (v < y.min - 1e-9) continue;
      const py = Math.round(y.getPixelForValue(v)) + 0.5;
      const major = t.some(m => Math.abs(m - v) < step / 10);
      ctx.moveTo(a.left, py);
      ctx.lineTo(a.left + (major ? 22 : 8), py);
    }
    for (let k = Math.ceil(x.min * 3); k / 3 <= x.max; k++) {
      const px = Math.round(x.getPixelForValue(k / 3)) + 0.5;
      ctx.moveTo(px, a.bottom);
      ctx.lineTo(px, a.bottom - (k % 3 === 0 ? 12 : 5));
    }
    ctx.stroke();
    ctx.strokeRect(Math.round(a.left) + 0.5, Math.round(a.top) + 0.5, Math.round(a.right - a.left) - 1, Math.round(a.bottom - a.top) - 1);
    ctx.restore();
  }
});

function panel(col, top, h, yr, yTicks, fs, datasets) {
  const c = COLS[col];
  const cv = document.createElement('canvas');
  const W = AXW + c.w + PR, H = h + PT + PB;
  cv.width = W; cv.height = H;
  Object.assign(cv.style, {left: (c.x - AXW) + 'px', top: (top - PT) + 'px', width: W + 'px', height: H + 'px'});
  root.appendChild(cv);
  new Chart(cv, {
    type: 'line',
    data: {datasets},
    options: {
      responsive: false, animation: false, devicePixelRatio: 1, events: [],
      layout: {padding: {top: PT, bottom: PB, left: 0, right: PR}},
      plugins: {legend: {display: false}, tooltip: {enabled: false}},
      scales: {
        x: {
          type: 'linear', min: c.xMin, max: c.xMax,
          afterBuildTicks: s => { s.ticks = hourTicks.map(v => ({value: v})); },
          afterFit: s => { s.height = 0; },
          ticks: {display: false},
          grid: {color: '#a6a6a6', drawTicks: false},
          border: {display: false, dash: [3, 3]}
        },
        y: {
          min: yr[0], max: yr[1],
          afterBuildTicks: s => { s.ticks = yTicks.map(v => ({value: v})); },
          afterFit: s => { s.width = AXW; },
          ticks: {autoSkip: false, color: '#000', padding: 3, font: {family: 'DejaVu Sans Mono', size: fs}, callback: v => String(v)},
          grid: {color: '#a6a6a6', drawTicks: false},
          border: {display: false, dash: [3, 3]}
        }
      }
    }
  });
}

// left page
panel('L', 176, 56, [-600, 50600], tk.lum, 12, [lineDs(lumL, '#f0a000')]);
panel('L', 232, 57, [-15, 1719], tk.cur, 12.5, [lineDs(lerL, '#ff0000'), lineDs(herL, '#0000ff')]);
panel('L', 289, 55, [0, 13.5], tk.rep, 12.5, [lineDs(repL, '#ff1493')]);
panel('L', 344, 56, [-0.107, 3.42], tk.qL, 12.5, [...bandDs(q2L, '#00cc00'), ...bandDs(q1L, '#3a5fcd'), lineDs(q0L, '#00cc00', 4), dotDs(qDotsL, '#3a5fcd')]);
panel('L', 400, 57, [-0.03, 5.04], tk.injL, 13, [...bandDs(injRateL, '#a020f0')]);
panel('L', 457, 57, [-1.5, 110.2], tk.eff, 12.5, [...bandDs(effL, '#00b2ee'), dotDs(effDotsL, '#00b2ee'), lineDs(effBaseL, '#00b2ee', 3)]);
panel('L', 514, 83, [-150, 22960], tk.eclL, 14.5, [...bandDs(eclBwL, '#008b45')]);
panel('L', 597, 80, [0, 27.8], tk.msL, 13.5, []);
panel('L', 677, 81, [-0.03, 5.8], tk.top, 14, [...bandDs(topL, '#4876ff')]);
panel('L', 758, 80, [-1, 240], tk.cdc, 14, [...bandDs(cdcL, '#00cd00'), ...bandDs(cdcAvL, '#008b00')]);
panel('L', 838, 80, [-0.32, 35.9], tk.dia, 14, [...bandDs(diaL, '#ee82ee')]);
panel('L', 918, 81, [-6, 716], tk.vxdL, 14, [...bandDs(vxdBlueL, '#0000ff'), ...bandDs(vxdRedL, '#ff0000')]);

// right page
panel('R', 54, 58, [-600, 50870], tk.lum, 13, [lineDs(lumR, '#f0a000')]);
panel('R', 112, 60, [-15, 1740], tk.cur, 13.5, [lineDs(lerR, '#ff0000', 3), lineDs(herR, '#0000ff')]);
panel('R', 172, 59, [0, 13.25], tk.rep, 12.5, [lineDs(repR, '#1e90ff')]);
panel('R', 231, 60, [-0.14, 2.43], tk.qR, 12.5, [...bandDs(q1R, '#3a5fcd'), lineDs(q0R, '#00cc00', 4)]);
panel('R', 291, 59, [-0.076, 1.88], tk.injR, 12.5, [...bandDs(injRateR, '#a020f0')]);
panel('R', 350, 64, [-7.4, 110.5], tk.eff, 12.5, [...bandDs(effR, '#00b2ee'), lineDs(effBaseR, '#00b2ee', 3)]);
panel('R', 414, 85, [-40, 8360], tk.eclR, 14.5, [...bandDs(eclFwR, '#008b45')]);
panel('R', 499, 85, [0, 12.75], tk.msR, 14, []);
panel('R', 584, 85, [-0.03, 5.0], tk.ph, 14, [lineDs(srFwR, '#ffa500'), lineDs(srBwR, '#ff0000')]);
panel('R', 669, 85, [-0.03, 5.74], tk.top, 14, [...bandDs(topR, '#4876ff')]);
panel('R', 754, 86, [-1, 243], tk.cdc, 14.5, [...bandDs(cdcR, '#00cd00'), ...bandDs(cdcAvR, '#008b00')]);
panel('R', 840, 85, [-0.56, 35.9], tk.dia, 14, [...bandDs(diaR, '#ee82ee')]);
panel('R', 925, 85, [-10, 1255], tk.vxdR, 14, [...bandDs(vxdRedR, '#ff0000'), ...bandDs(vxdBlueR, '#0000ff')]);

// ---- text, legends, frame ----
function el(cls, css, html) {
  const d = document.createElement('div');
  d.className = cls;
  Object.assign(d.style, css);
  if (html != null) d.innerHTML = html;
  root.appendChild(d);
  return d;
}

[[0, 0, 2, 1062], [901, 0, 2, 1062], [1804, 0, 2, 1062], [0, 0, 1806, 1]].forEach(r =>
  el('sep', {left: r[0] + 'px', top: r[1] + 'px', width: r[2] + 'px', height: r[3] + 'px'}));

const titles = [
  ['Luminosity', 51, 204, 11.5], ['I[mA]', 58.5, 259, 12], ['Rep.\nRate[Hz]', 67.5, 320, 12], ['Q[nC]', 83, 373.5, 11],
  ['[mA/s]', 82, 430, 10], ['[%]', 65, 482, 11], ['ECL_BW', 45, 556, 13, true], ['[ms]', 75, 636, 12, true],
  ['[Hz]', 82, 717, 10.5], ['[uA]', 63, 797, 10.5], ['[mRad/s]', 72, 877, 10.8], ['VXD', 67, 957, 11],
  ['Luminosity', 954, 82, 11.5], ['I[mA]', 961, 141.5, 12], ['Rep.\nRate[Hz]', 969.5, 202, 12], ['Q[nC]', 969.5, 253.5, 11],
  ['[mA/s]', 965, 320, 10], ['[%]', 968, 378, 11], ['ECL_FW', 956, 457, 13, true], ['[ms]', 973, 542, 12, true],
  ['Photon\nRate', 979.5, 626.5, 12], ['[Hz]', 983, 713, 10.5], ['[uA]', 967, 797, 10.5], ['[mRad/s]', 973, 882, 12.5, true], ['VXD', 959, 966, 13.8, true]
];
titles.forEach(([t, x, y, fs, bold]) =>
  el('yt', {left: x + 'px', top: y + 'px', fontSize: fs + 'px', fontWeight: bold ? 'bold' : 'normal'}, t));

el('mult', {left: '37px', top: '683px'}, 'x10<span>6</span>');
el('mult', {left: '940px', top: '590px'}, 'x10<span>5</span>');
el('mult', {left: '940px', top: '675px'}, 'x10<span>6</span>');

// time axis labels
function timeAxis(x16, base, dateBase, dateX, nextX, endX) {
  for (let hh = 17; hh <= 23; hh++)
    el('xl', {left: (x16 + (hh - 16) * 70.3) + 'px', top: (base - 14) + 'px', transform: 'translateX(-50%)'}, hh + '<span>h</span>');
  el('xl', {left: (x16 - 20.3) + 'px', top: (base - 14) + 'px'}, '16<span>h</span>0<span>m</span>0<span>s</span>');
  el('xl', {left: endX + 'px', top: (base - 14) + 'px'}, '0<span>h</span>0<span>m</span>');
  el('dt', {left: dateX + 'px', top: (dateBase - 15) + 'px'}, '5/12/2026');
  el('dt', {left: nextX + 'px', top: (dateBase - 15) + 'px'}, '5/13');
}
timeAxis(111, 1025, 1049, 55, 645, 658);
timeAxis(1009.4, 1035, 1060, 951.7, 1543, 1555);

const legends = [
  {box: [796, 248, 880, 294], rows: [{m: 'line', c: '#ff0000', y: 262, x1: 802, x2: 842, tx: 847, t: 'LER'}, {m: 'line', c: '#0000ff', y: 280, x1: 802, x2: 842, tx: 847, t: 'HER'}]},
  {box: [780, 301, 880, 339], rows: [{m: 'line', c: '#ff1493', y: 319, x1: 787, x2: 827, tx: 833, t: 'LER', big: true}]},
  {box: [734, 362, 880, 407], rows: [{m: 'dot', c: '#3a5fcd', y: 375, x1: 742, tx: 767, t: 'QMD11P_1(nC)'}, {m: 'dot', c: '#00cc00', y: 393, x1: 742, tx: 767, t: 'QMD11P_2(nC)'}]},
  {box: [769, 418, 880, 446], rows: [{m: 'dot', c: '#a020f0', y: 431, x1: 777, tx: 802, t: 'Inj.Rate'}]},
  {box: [768, 533, 880, 562], rows: [{m: 'line', c: '#008b45', y: 547, x1: 775, x2: 815, tx: 821, t: 'ECL_BW'}]},
  {box: [724, 474, 880, 537], rows: [{m: 'dot', c: '#000', y: 487, x1: 732, tx: 758, t: 'Inj.Eff(BCM1)'}, {m: 'dot', c: '#888', y: 505, x1: 732, tx: 758, t: 'Inj.Eff(BCM2)'}, {y: 523, tx: 758, t: 'Inj.Eff'}]},
  {box: [750, 604, 880, 650], rows: [{m: 'line', c: '#ff6347', y: 627, x1: 757, x2: 797, tx: 802, t: 'ECL BG\nDuration', two: true}]},
  {box: [750, 694, 880, 722], rows: [{m: 'line', c: '#4876ff', y: 707, x1: 757, x2: 797, tx: 802, t: 'TOP [Hz]'}]},
  {box: [768, 774, 880, 820], rows: [{m: 'line', c: '#00cd00', y: 783, x1: 775, x2: 815, tx: 821, t: 'CDC'}, {m: 'line', c: '#008b00', y: 806, x1: 775, x2: 815, tx: 821, t: 'CDC_av'}]},
  {box: [759, 854, 880, 882], rows: [{m: 'line', c: '#ee82ee', y: 868, x1: 766, x2: 806, tx: 812, t: 'Diamond'}]},
  {box: [741, 934, 880, 980], rows: [{m: 'line', c: '#0000ff', y: 948, x1: 748, x2: 788, tx: 793, t: 'VXD_FW225'}, {m: 'line', c: '#ff0000', y: 966, x1: 748, x2: 788, tx: 793, t: 'VXD_FW135'}]},

  {box: [1697, 128, 1783, 174], rows: [{m: 'line', c: '#ff0000', y: 142, x1: 1704, x2: 1743, tx: 1749, t: 'LER'}, {m: 'line', c: '#0000ff', y: 160, x1: 1704, x2: 1743, tx: 1749, t: 'HER'}]},
  {box: [1682, 183, 1783, 222], rows: [{m: 'line', c: '#1e90ff', y: 202, x1: 1689, x2: 1729, tx: 1734, t: 'HER', big: true}]},
  {box: [1644, 247, 1783, 293], rows: [{m: 'dot', c: '#3a5fcd', y: 262, x1: 1652, tx: 1677, t: 'QMD8E_1(nC)'}, {m: 'dot', c: '#00cc00', y: 279, x1: 1652, tx: 1677, t: 'QMD8E_2(nC)'}]},
  {box: [1671, 307, 1783, 335], rows: [{m: 'dot', c: '#a020f0', y: 321, x1: 1679, tx: 1704, t: 'Inj.Rate'}]},
  {box: [1670, 431, 1783, 458], rows: [{m: 'line', c: '#008b45', y: 444, x1: 1677, x2: 1717, tx: 1722, t: 'ECL_FW'}]},
  {box: [1627, 367, 1783, 431], rows: [{m: 'dot', c: '#000', y: 380, x1: 1634, tx: 1659, t: 'Inj.Eff(BCM1)'}, {m: 'dot', c: '#888', y: 398, x1: 1634, tx: 1659, t: 'Inj.Eff(BCM2)'}, {y: 416, tx: 1659, t: 'Inj.Eff'}]},
  {box: [1652, 506, 1783, 552], rows: [{m: 'line', c: '#ff6347', y: 529, x1: 1659, x2: 1699, tx: 1704, t: 'ECL BG\nDuration', two: true}]},
  {box: [1679, 600, 1783, 646], rows: [{m: 'line', c: '#ffa500', y: 614, x1: 1686, x2: 1726, tx: 1731, t: 'SR_FW'}, {m: 'line', c: '#ff0000', y: 632, x1: 1686, x2: 1726, tx: 1731, t: 'SR_BW'}]},
  {box: [1652, 686, 1783, 713], rows: [{m: 'line', c: '#4876ff', y: 699, x1: 1659, x2: 1699, tx: 1704, t: 'TOP [Hz]'}]},
  {box: [1670, 770, 1783, 816], rows: [{m: 'line', c: '#00cd00', y: 784, x1: 1677, x2: 1717, tx: 1722, t: 'CDC'}, {m: 'line', c: '#008b00', y: 802, x1: 1677, x2: 1717, tx: 1722, t: 'CDC_av'}]},
  {box: [1661, 857, 1783, 885], rows: [{m: 'line', c: '#ee82ee', y: 870, x1: 1668, x2: 1708, tx: 1713, t: 'Diamond'}]},
  {box: [1643, 942, 1783, 988], rows: [{m: 'line', c: '#ff0000', y: 956, x1: 1650, x2: 1690, tx: 1695, t: 'VXD_BW180'}, {m: 'line', c: '#0000ff', y: 973, x1: 1650, x2: 1690, tx: 1695, t: 'VXD_BW270'}]}
];
legends.forEach(L => {
  const [x1, y1, x2, y2] = L.box;
  el('leg', {left: x1 + 'px', top: y1 + 'px', width: (x2 - x1) + 'px', height: (y2 - y1) + 'px'});
  L.rows.forEach(r => {
    if (r.m === 'line') el('lm', {left: r.x1 + 'px', top: (r.y - 0.5) + 'px', width: (r.x2 - r.x1) + 'px', height: '1px', background: r.c});
    if (r.m === 'dot') el('lm', {left: (r.x1 - 2.5) + 'px', top: (r.y - 2.5) + 'px', width: '5px', height: '5px', borderRadius: '50%', background: r.c});
    el(r.big ? 'lt big' : 'lt', {left: r.tx + 'px', top: r.y + 'px', lineHeight: r.two ? '18px' : ''}, r.t);
  });
});
</script>
</body>
</html>
